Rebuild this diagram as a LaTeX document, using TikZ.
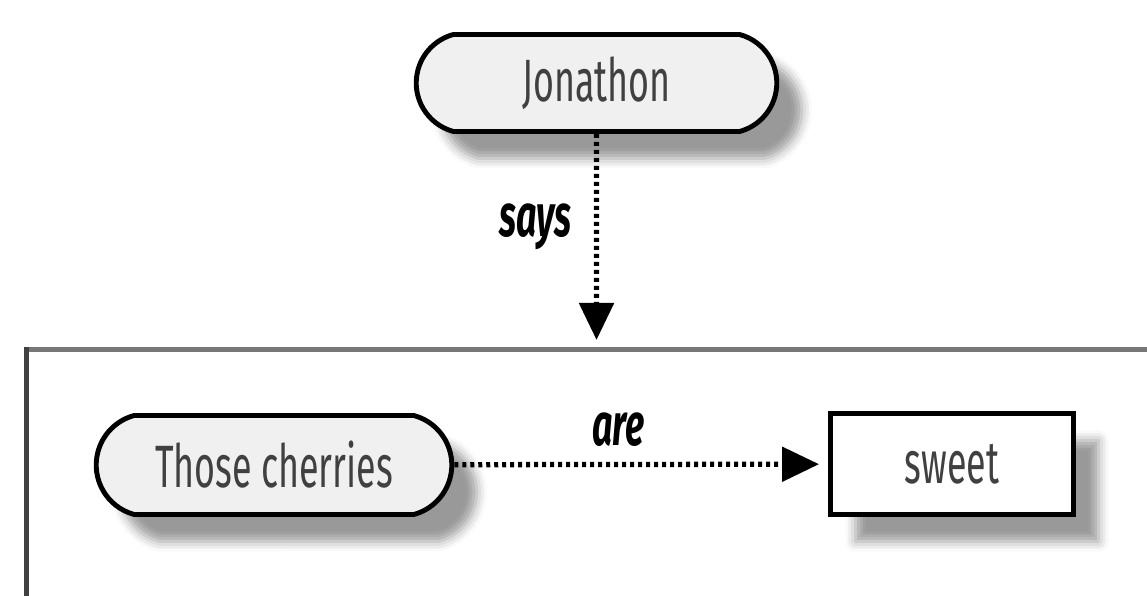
\documentclass[tikz,border=0pt]{standalone}
\usepackage{fontspec}
\setmainfont[FakeStretch=0.6]{Fira Sans}
\usetikzlibrary{arrows.meta,shapes.misc,shadows.blur}

\definecolor{termfill}{HTML}{F0F0F0}
\definecolor{textgray}{HTML}{404040}
\definecolor{topline}{HTML}{777777}
\definecolor{sideline}{HTML}{404040}

\begin{document}
\begin{tikzpicture}
            \tikzset{x=1cm, y=-1cm}
            \tikzstyle{dropshadow}=[blur shadow={shadow xshift=0.25cm, shadow yshift=-0.27cm, shadow blur radius=0.1cm, shadow opacity=40}]
            \tikzstyle{term}=[rounded rectangle, rounded rectangle arc length=150, draw, line width=1.4pt, fill=termfill, text=textgray, font=\fontsize{17}{19}\selectfont, dropshadow]
            \tikzstyle{val}=[rectangle, draw, line width=1.4pt, fill=white, text=textgray, font=\fontsize{17}{19}\selectfont, dropshadow]
            \tikzstyle{rel}=[line width=1.5pt, dash pattern=on 0.04cm off 0.04cm, -{Triangle[length=0.37cm, width=0.34cm]}]
            \tikzstyle{verb}=[font=\fontsize{17}{19}\selectfont\bfseries\itshape]

            \useasboundingbox (0, 0) rectangle (11.47, 5.96);

            % the statement box
            \draw[topline, line width=1.2pt]   (11.47, 3.495) -- (0.24, 3.495);
            \draw[sideline, line width=1.4pt]  (0.265, 3.47) -- (0.265, 5.96);

            \draw (5.965, 0.83) node[term, minimum width=3.84cm, minimum height=0.97cm] (jon)    {Jonathon};
            \draw (2.74, 4.65)  node[term, minimum width=3.79cm, minimum height=0.99cm] (cherry) {Those cherries};
            \draw (9.52, 4.64)  node[val, minimum width=2.43cm, minimum height=1.01cm]  (sweet)  {sweet};
            \coordinate (inner) at (5.965, 3.40);

            \draw[rel]                      (jon) -- node[verb, pos=0.45, left=3pt] {says} (inner);
            \draw[rel, shorten >=0.09cm]    (cherry) -- node[verb, pos=0.44, above=1pt] {are} (sweet);
        \end{tikzpicture}
\end{document}
